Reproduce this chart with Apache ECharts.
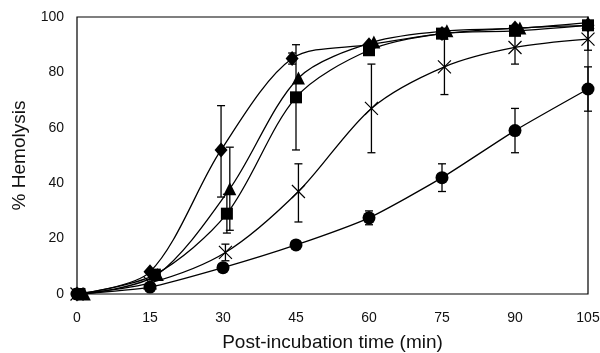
<!DOCTYPE html>
<html>
<head>
<meta charset="utf-8">
<script src="https://cdn.jsdelivr.net/npm/echarts@6/dist/echarts.min.js"></script>
<style>
  html, body { margin: 0; padding: 0; background: #fff; }
  #chart { width: 600px; height: 353px; }
</style>
</head>
<body>
<div id="chart"></div>
<script>
// x positions (points are slightly staggered)
const xTicks = [0, 15, 30, 45, 60, 75, 90, 105];

const diamondX = [0, 15, 29.6, 44.2, 60, 75, 90, 105];
const diamondY = [0, 8, 52, 85, 90, 94, 96, 97];
const diamondErr = [[29.6, 35, 68], [44.2, 83, 87]];

const triangleX = [1.5, 16.5, 31.4, 45.5, 61, 76, 91, 105];
const triangleY = [0, 7, 38, 78, 91, 95, 96, 98];
const triangleErr = [[31.4, 23, 53]];

const squareX = [0.5, 16, 30.8, 45, 60, 75, 90, 105];
const squareY = [0, 7, 29, 71, 88, 94, 95, 97];
const squareErr = [[30.8, 22, 36], [45, 52, 90]];

const crossX = [0, 15, 30.5, 45.5, 60.5, 75.5, 90, 105];
const crossY = [0, 4, 15, 37, 67, 82, 89, 92];
const crossErr = [[30.5, 12, 18], [45.5, 26, 47], [60.5, 51, 83], [75.5, 72, 92], [90, 83, 95], [105, 88, 96]];

const circleX = [0, 15, 30, 45, 60, 75, 90, 105];
const circleY = [0, 2.5, 9.5, 17.7, 27.5, 42, 59, 74];
const circleErr = [[60, 25, 30], [75, 37, 47], [90, 51, 67], [105, 66, 82]];

function pairs(xs, ys) { return xs.map((x, i) => [x, ys[i]]); }

const chart = echarts.init(document.getElementById('chart'));
const font = 'Liberation Sans';

function lineSeries(xs, ys, symbol, size, extra) {
  return Object.assign({
    type: 'line',
    data: pairs(xs, ys),
    smooth: 0.3,
    symbol: symbol,
    symbolSize: size,
    showSymbol: true,
    lineStyle: { color: '#000', width: 1.3 },
    itemStyle: { color: '#000' },
    z: 3
  }, extra || {});
}

function errSeries(data) {
  return {
    type: 'custom',
    data: data,
    z: 2,
    renderItem: function (params, api) {
      const x = api.value(0);
      const lo = api.coord([x, api.value(1)]);
      const hi = api.coord([x, api.value(2)]);
      const cap = 4;
      const style = { stroke: '#000', lineWidth: 1.3 };
      return {
        type: 'group',
        children: [
          { type: 'line', shape: { x1: lo[0], y1: lo[1], x2: hi[0], y2: hi[1] }, style: style },
          { type: 'line', shape: { x1: lo[0] - cap, y1: lo[1], x2: lo[0] + cap, y2: lo[1] }, style: style },
          { type: 'line', shape: { x1: hi[0] - cap, y1: hi[1], x2: hi[0] + cap, y2: hi[1] }, style: style }
        ]
      };
    }
  };
}

chart.setOption({
  animation: false,
  grid: {
    left: 77, right: 12, top: 17, bottom: 59,
    outerBoundsMode: 'none',
    show: true, borderColor: '#000', borderWidth: 1.2, backgroundColor: 'transparent'
  },
  xAxis: {
    type: 'value',
    min: 0, max: 105, interval: 15,
    name: 'Post-incubation time (min)',
    nameLocation: 'middle',
    nameGap: 39,
    nameTextStyle: { fontFamily: font, fontSize: 19, color: '#111' },
    axisLine: { show: false },
    axisTick: { show: false },
    splitLine: { show: false },
    axisLabel: { fontFamily: font, fontSize: 14, color: '#111', margin: 17,
      formatter: v => xTicks.includes(v) ? String(v) : '' }
  },
  yAxis: {
    type: 'value',
    min: 0, max: 100, interval: 20,
    name: '% Hemolysis',
    nameLocation: 'middle',
    nameGap: 43,
    nameTextStyle: { fontFamily: font, fontSize: 19, color: '#111' },
    axisLine: { show: false },
    axisTick: { show: false },
    splitLine: { show: false },
    axisLabel: { fontFamily: font, fontSize: 14, color: '#111', margin: 13 }
  },
  series: [
    errSeries(diamondErr),
    errSeries(triangleErr),
    errSeries(squareErr),
    errSeries(crossErr),
    errSeries(circleErr),
    lineSeries(diamondX, diamondY, 'diamond', [13, 15]),
    lineSeries(triangleX, triangleY, 'triangle', 13),
    lineSeries(squareX, squareY, 'rect', 12),
    lineSeries(crossX, crossY, 'path://M0,0L10,10M10,0L0,10', 13, {
      itemStyle: { color: 'transparent', borderColor: '#000', borderWidth: 1.2 }
    }),
    lineSeries(circleX, circleY, 'circle', 13, { smooth: 0.2 })
  ]
});
</script>
</body>
</html>
